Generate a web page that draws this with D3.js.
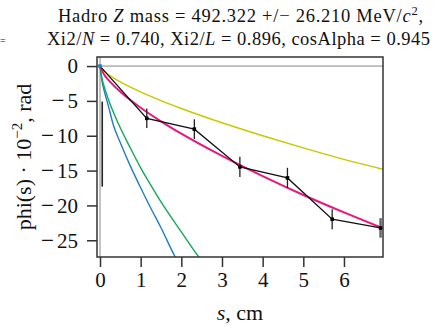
<!DOCTYPE html>
<html><head><meta charset="utf-8">
<script src="https://cdn.jsdelivr.net/npm/d3@7"></script>
<style>
html,body{margin:0;padding:0;background:#fff;}
svg{display:block;}
text{font-family:"Liberation Serif","DejaVu Serif",serif;fill:#111;}
</style></head><body>
<script>
// ---- data ----
const xTicks = [0, 1, 2, 3, 4, 5, 6];
const yTicks = [0, -5, -10, -15, -20, -25];
const dataX = [0, 1.15, 2.32, 3.44, 4.61, 5.71, 6.90];
const dataY = [0, -7.5, -9.05, -14.47, -16.05, -21.98, -23.23];
const dataErr = [0, 1.4, 1.4, 1.45, 1.45, 1.45, 1.4];
const strayBarX = [0.055];
const strayBarLo = [-17.3];
const strayBarHi = [-5.1];
const blueX = [0, 0.05, 0.1, 0.2, 0.33, 0.5, 0.75, 0.97, 1.25, 1.5, 1.85, 2.0];
const blueY = [0, -2.2, -3.5, -5.6, -8.5, -11.0, -14.4, -17.1, -20.4, -23.2, -27.4, -28.9];
const greenX = [0, 0.05, 0.1, 0.2, 0.47, 0.75, 1.0, 1.25, 1.5, 2.0, 2.43, 2.6];
const greenY = [0, -1.8, -2.9, -4.7, -8.5, -11.8, -14.6, -17.1, -19.5, -23.8, -27.4, -28.6];
const yellowX = [0, 0.1, 0.25, 0.5, 1, 1.5, 2, 3, 4, 5, 6, 6.96];
const yellowY = [0, -0.72, -1.4, -2.27, -3.71, -4.96, -6.09, -8.14, -10.0, -11.75, -13.4, -14.8];
const pinkX = [0, 0.1, 0.25, 0.5, 1, 1.5, 2, 3, 4, 5, 6, 6.96];
const pinkY = [0, -1.2, -2.26, -3.68, -5.98, -7.93, -9.71, -12.9, -15.8, -18.5, -21.0, -23.3];

const W = 437, H = 326;
const L = 97, R = 383, T = 57, B = 257;
const svg = d3.select("body").append("svg").attr("width", W).attr("height", H);
const x = d3.scaleLinear().domain([-0.074, 6.96]).range([L, R]);
const y = d3.scaleLinear().domain([-27.4, 1.3]).range([B, T]);

svg.append("clipPath").attr("id", "clip").append("rect")
  .attr("x", L).attr("y", T).attr("width", R - L).attr("height", B - T);
const g = svg.append("g").attr("clip-path", "url(#clip)");

// zero lines
g.append("line").attr("x1", L).attr("x2", R).attr("y1", y(0)).attr("y2", y(0))
  .attr("stroke", "#888").attr("stroke-width", 1);
g.append("line").attr("x1", x(0)).attr("x2", x(0)).attr("y1", T).attr("y2", B)
  .attr("stroke", "#888").attr("stroke-width", 1);

const line = d3.line().x(d => x(d[0])).y(d => y(d[1])).curve(d3.curveMonotoneX);
function curve(xs, ys, color, w) {
  g.append("path").datum(xs.map((v, i) => [v, ys[i]])).attr("d", line)
    .attr("fill", "none").attr("stroke", color).attr("stroke-width", w);
}
curve(blueX, blueY, "#1f7fc4", 1.4);
curve(greenX, greenY, "#14a85a", 1.4);
curve(yellowX, yellowY, "#c8c800", 1.4);
curve(pinkX, pinkY, "#e8177d", 2);

// stray bar
strayBarX.forEach((v, i) => {
  g.append("line").attr("x1", x(v)).attr("x2", x(v)).attr("y1", y(strayBarHi[i])).attr("y2", y(strayBarLo[i]))
    .attr("stroke", "#222").attr("stroke-width", 1.6);
});

// data line
const pts = dataX.map((v, i) => [v, dataY[i], dataErr[i]]);
g.append("path").datum(pts).attr("d", d3.line().x(d => x(d[0])).y(d => y(d[1])))
  .attr("fill", "none").attr("stroke", "#111").attr("stroke-width", 1.3);
pts.forEach((d, i) => {
  if (d[2] > 0) {
    g.append("line").attr("x1", x(d[0])).attr("x2", x(d[0]))
      .attr("y1", y(d[1] + d[2])).attr("y2", y(d[1] - d[2]))
      .attr("stroke", i === pts.length - 1 ? "#666" : "#222")
      .attr("stroke-width", i === pts.length - 1 ? 2.5 : 1.3);
    g.append("rect").attr("x", x(d[0]) - 1.8).attr("y", y(d[1]) - 1.8)
      .attr("width", 3.6).attr("height", 3.6).attr("fill", "#000");
  }
});
// origin marker
g.append("rect").attr("x", x(0) - 1.8).attr("y", y(0) - 1.8).attr("width", 3.6).attr("height", 3.6)
  .attr("fill", "#1f7fc4");

// frame
svg.append("rect").attr("x", L).attr("y", T).attr("width", R - L).attr("height", B - T)
  .attr("fill", "none").attr("stroke", "#333").attr("stroke-width", 1.5);

// axes
const ax = svg.append("g").attr("transform", `translate(0,${B})`)
  .call(d3.axisBottom(x).tickValues(xTicks).tickFormat(d => "" + d).tickSize(10).tickSizeOuter(0));
const ay = svg.append("g").attr("transform", `translate(${L},0)`)
  .call(d3.axisLeft(y).tickValues(yTicks).tickFormat(() => "").tickSize(10).tickSizeOuter(0));
[ax, ay].forEach(a => {
  a.select(".domain").remove();
  a.selectAll(".tick line").attr("stroke", "#333").attr("stroke-width", 1.5);
  a.selectAll("text").attr("font-size", 21).attr("font-family", "Liberation Serif, serif").attr("fill", "#111");
});
ax.selectAll("text").attr("dy", "0.71em").attr("y", 15);
ay.selectAll(".tick text").each(function(d) {
  const t = d3.select(this).attr("x", -19).attr("dy", "0.33em").text(null);
  if (d < 0) {
    t.append("tspan").attr("font-size", 23).text("\u2212");
    t.append("tspan").attr("dx", 3).text(Math.abs(d));
  } else {
    t.append("tspan").text(d);
  }
});

// title
const t1 = svg.append("text").attr("x", 240.5).attr("y", 22).attr("text-anchor", "middle")
  .attr("font-size", 18.5).attr("textLength", 365).attr("lengthAdjust", "spacing");
t1.append("tspan").text("Hadro ");
t1.append("tspan").attr("font-style", "italic").text("Z");
t1.append("tspan").text(" mass = 492.322 +/\u2212 26.210 MeV/");
t1.append("tspan").attr("font-style", "italic").text("c");
t1.append("tspan").attr("font-size", 12.5).attr("dy", -7).text("2");
t1.append("tspan").attr("dy", 7).text(",");
const t2 = svg.append("text").attr("x", 238.5).attr("y", 45).attr("text-anchor", "middle")
  .attr("font-size", 18.5).attr("textLength", 383).attr("lengthAdjust", "spacing");
t2.append("tspan").text("Xi2/");
t2.append("tspan").attr("font-style", "italic").text("N");
t2.append("tspan").text(" = 0.740, Xi2/");
t2.append("tspan").attr("font-style", "italic").text("L");
t2.append("tspan").text(" = 0.896, cosAlpha = 0.945");

// stray fragment
svg.append("text").attr("x", 0).attr("y", 44).attr("font-size", 10).text("=");

// y label
const yl = svg.append("text").attr("transform", "translate(31,157) rotate(-90)")
  .attr("text-anchor", "middle").attr("font-size", 22);
yl.append("tspan").text("phi(s) \u00B7 10");
yl.append("tspan").attr("font-size", 15).attr("dy", -9).text("\u22122");
yl.append("tspan").attr("dy", 9).text(", rad");

// x label
const xl = svg.append("text").attr("x", 240).attr("y", 320).attr("text-anchor", "middle").attr("font-size", 22);
xl.append("tspan").attr("font-style", "italic").text("s");
xl.append("tspan").text(", cm");
</script>
</body></html>
